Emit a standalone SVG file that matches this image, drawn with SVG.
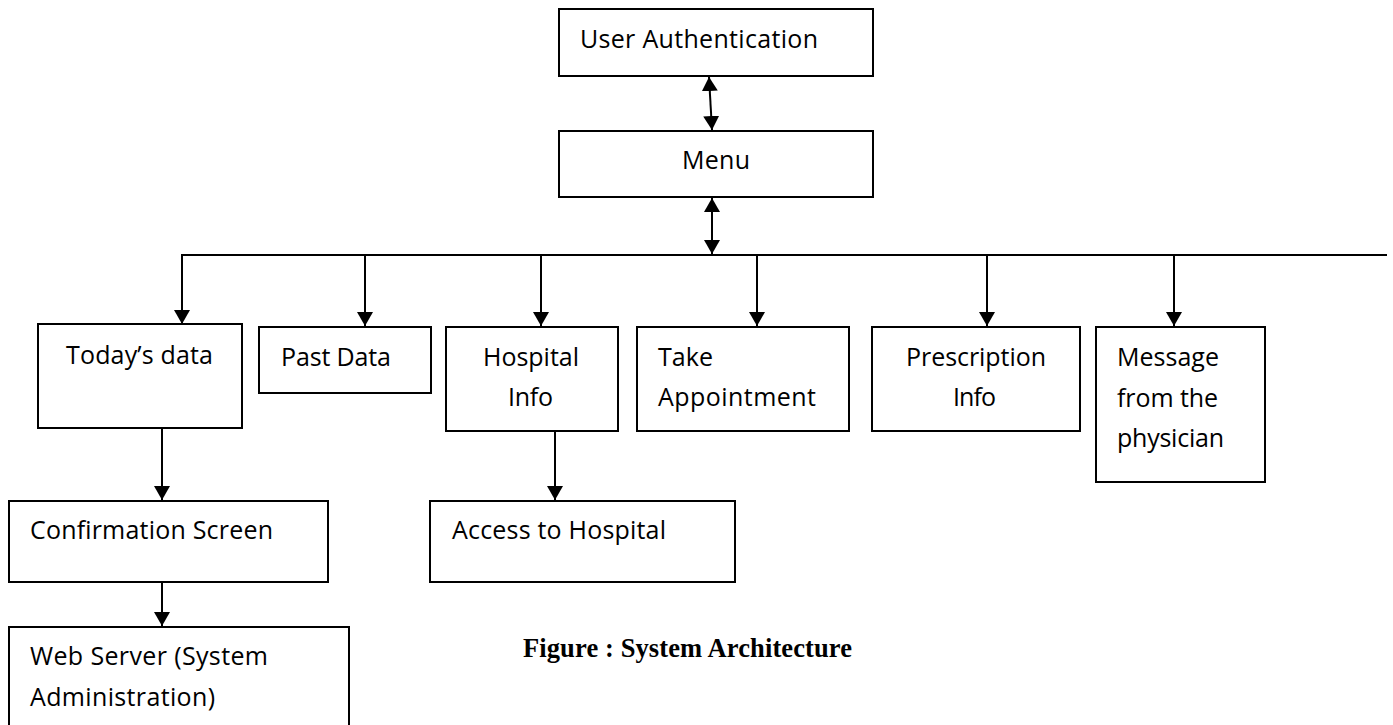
<svg xmlns="http://www.w3.org/2000/svg" width="1393" height="725" viewBox="0 0 1393 725">
<defs>
<marker id="ah" viewBox="0 0 14 16" refX="14" refY="8" markerWidth="14" markerHeight="16" markerUnits="userSpaceOnUse" orient="auto-start-reverse">
<path d="M0,0 L14,8 L0,16 Z" fill="#000"/>
</marker>
<style>
.box{fill:#fff;stroke:#000;stroke-width:2}
.t{font-family:"Open Sans","Liberation Sans",sans-serif;font-size:25px;fill:#000}
.ln{fill:none;stroke:#000;stroke-width:2}
.cap{font-family:"Liberation Serif",serif;font-size:26.5px;font-weight:bold;fill:#000}
</style>
</defs>
<rect width="1393" height="725" fill="#fff"/>
<g id="connectors">
<line class="ln" x1="709" y1="77" x2="712" y2="130" marker-start="url(#ah)" marker-end="url(#ah)"/>
<line class="ln" x1="712" y1="198" x2="712" y2="254" marker-start="url(#ah)" marker-end="url(#ah)"/>
<line class="ln" x1="181" y1="255" x2="1387" y2="255"/>
<line class="ln" x1="182" y1="255" x2="182" y2="324" marker-end="url(#ah)"/>
<line class="ln" x1="365" y1="255" x2="365" y2="326" marker-end="url(#ah)"/>
<line class="ln" x1="541" y1="255" x2="541" y2="326" marker-end="url(#ah)"/>
<line class="ln" x1="757" y1="255" x2="757" y2="326" marker-end="url(#ah)"/>
<line class="ln" x1="987" y1="255" x2="987" y2="326" marker-end="url(#ah)"/>
<line class="ln" x1="1174" y1="255" x2="1174" y2="326" marker-end="url(#ah)"/>
<line class="ln" x1="162" y1="428" x2="162" y2="500" marker-end="url(#ah)"/>
<line class="ln" x1="162" y1="583" x2="162" y2="626" marker-end="url(#ah)"/>
<line class="ln" x1="555" y1="431" x2="555" y2="500" marker-end="url(#ah)"/>
</g>
<g id="user-auth">
<rect class="box" x="559" y="9" width="314" height="67"/>
<text class="t" x="580" y="48" textLength="238">User Authentication</text>
</g>
<g id="menu">
<rect class="box" x="559" y="131" width="314" height="66"/>
<text class="t" x="682" y="169" textLength="68">Menu</text>
</g>
<g id="todays-data">
<rect class="box" x="38" y="324" width="204" height="104"/>
<text class="t" x="66" y="364" textLength="147">Today’s data</text>
</g>
<g id="past-data">
<rect class="box" x="259" y="327" width="172" height="66"/>
<text class="t" x="281" y="366" textLength="110">Past Data</text>
</g>
<g id="hospital-info">
<rect class="box" x="446" y="327" width="172" height="104"/>
<text class="t" x="483" y="366" textLength="96">Hospital</text>
<text class="t" x="508" y="406" textLength="45">Info</text>
</g>
<g id="take-appointment">
<rect class="box" x="637" y="327" width="212" height="104"/>
<text class="t" x="658" y="366" textLength="55">Take</text>
<text class="t" x="658" y="406" textLength="158">Appointment</text>
</g>
<g id="prescription-info">
<rect class="box" x="872" y="327" width="208" height="104"/>
<text class="t" x="906" y="366" textLength="140">Prescription</text>
<text class="t" x="953" y="406" textLength="43">Info</text>
</g>
<g id="message">
<rect class="box" x="1096" y="327" width="169" height="155"/>
<text class="t" x="1117" y="366" textLength="102">Message</text>
<text class="t" x="1117" y="407" textLength="101">from the</text>
<text class="t" x="1117" y="447" textLength="107">physician</text>
</g>
<g id="confirmation">
<rect class="box" x="9" y="501" width="319" height="81"/>
<text class="t" x="30" y="539" textLength="243">Confirmation Screen</text>
</g>
<g id="web-server">
<rect class="box" x="9" y="627" width="340" height="120"/>
<text class="t" x="30" y="665" textLength="238">Web Server (System</text>
<text class="t" x="30" y="706" textLength="185">Administration)</text>
</g>
<g id="access-hospital">
<rect class="box" x="430" y="501" width="305" height="81"/>
<text class="t" x="452" y="539" textLength="214">Access to Hospital</text>
</g>
<text class="cap" x="523" y="657" textLength="329">Figure : System Architecture</text>
</svg>
